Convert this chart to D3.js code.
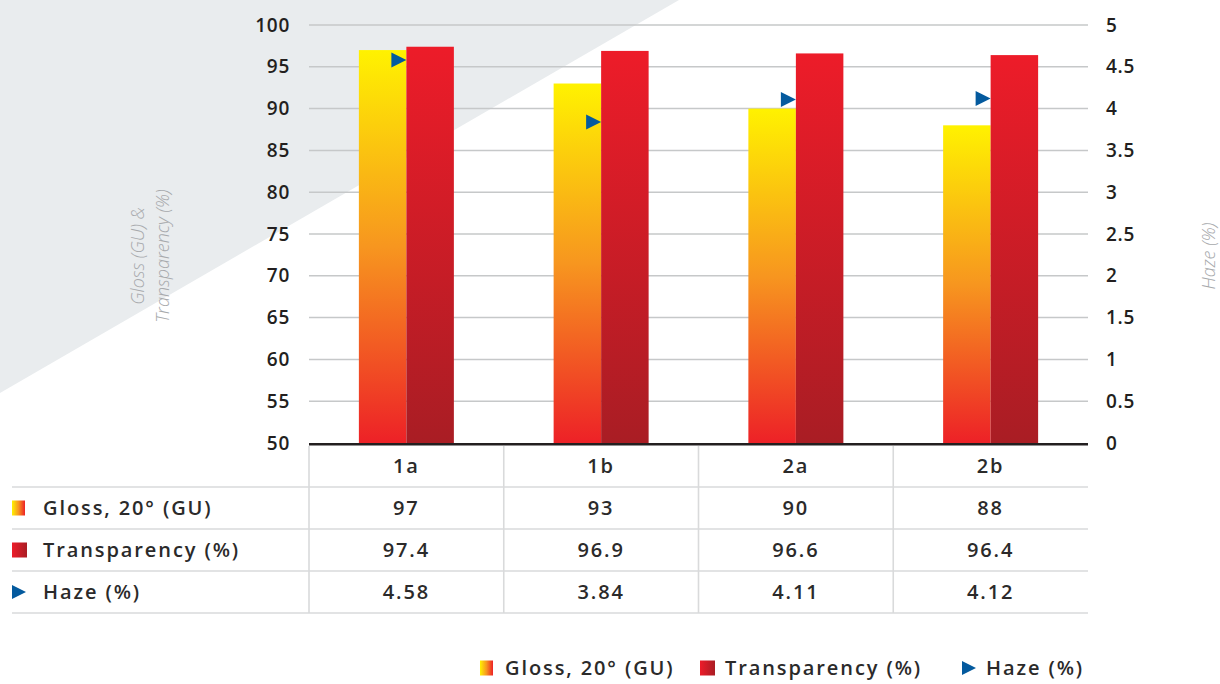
<!DOCTYPE html>
<html>
<head>
<meta charset="utf-8">
<script src="https://cdn.jsdelivr.net/npm/d3@7/dist/d3.min.js"></script>
<style>
  html, body { margin: 0; padding: 0; background: #ffffff; }
  svg { display: block; font-family: "Open Sans", sans-serif; }
</style>
</head>
<body>
<svg id="chart" width="1220" height="684"></svg>
<script>
// Samples and measured values
const categories = ["1a", "1b", "2a", "2b"];
const glossValues = [97, 93, 90, 88];
const transparencyValues = [97.4, 96.9, 96.6, 96.4];
const hazeValues = [4.58, 3.84, 4.11, 4.12];
const seriesNames = ["Gloss, 20° (GU)", "Transparency (%)", "Haze (%)"];
const leftTicks = [50, 55, 60, 65, 70, 75, 80, 85, 90, 95, 100];
const rightTicks = [0, 0.5, 1, 1.5, 2, 2.5, 3, 3.5, 4, 4.5, 5];

const svg = d3.select("#chart");
const plot = { left: 309, right: 1088, top: 25, bottom: 443 };
const tableTop = 445, rowH = 42, tableLeft = 12;
const FONT = "'Open Sans', sans-serif";

// Gradients
const defs = svg.append("defs");
function linGrad(id, x2, y2, stops) {
  const g = defs.append("linearGradient").attr("id", id)
    .attr("x1", 0).attr("y1", 0).attr("x2", x2).attr("y2", y2);
  stops.forEach(s => g.append("stop").attr("offset", s[0]).attr("stop-color", s[1]));
}
linGrad("glossV", 0, 1, [[0, "#fff200"], [0.5, "#f7961f"], [1, "#ed2127"]]);
linGrad("transV", 0, 1, [[0, "#ed1c29"], [1, "#a91d24"]]);
linGrad("glossH", 1, 0, [[0, "#fff200"], [0.5, "#f7961f"], [1, "#ed2127"]]);
linGrad("transH", 1, 0, [[0, "#ed1c29"], [1, "#a91d24"]]);

// Light backdrop wedge in the upper-left corner
svg.append("path")
  .attr("d", "M0,0 L679,0 L0,393 Z")
  .attr("fill", "#e9ecee");

// Scales
const x0 = d3.scaleBand().domain(categories).range([plot.left, plot.right]);
const x1 = d3.scaleBand().domain(["gloss", "trans"]).range([0, x0.bandwidth()]).paddingOuter(1.05);
const yL = d3.scaleLinear().domain([50, 100]).range([plot.bottom, plot.top]);
const yR = d3.scaleLinear().domain([0, 5]).range([plot.bottom, plot.top]);

// Gridlines
svg.append("g").selectAll("line").data(leftTicks.slice(1)).join("line")
  .attr("x1", plot.left).attr("x2", plot.right)
  .attr("y1", d => yL(d)).attr("y2", d => yL(d))
  .attr("stroke", "#c6c8c9").attr("stroke-width", 1.5);

const tickStyle = sel => sel
  .attr("font-family", FONT).attr("font-size", 19)
  .attr("font-weight", 600).attr("fill", "#231f20").attr("letter-spacing", 0.7);

// Left axis
const leftAxis = svg.append("g").attr("transform", `translate(${plot.left},0)`)
  .call(d3.axisLeft(yL).tickValues(leftTicks).tickSize(0).tickPadding(19));
leftAxis.select(".domain").remove();
leftAxis.selectAll("text").call(tickStyle);

// Right axis
const rightAxis = svg.append("g").attr("transform", `translate(${plot.right},0)`)
  .call(d3.axisRight(yR).tickValues(rightTicks).tickFormat(d3.format("~g")).tickSize(0).tickPadding(18));
rightAxis.select(".domain").remove();
rightAxis.selectAll("text").call(tickStyle);

// Axis titles
const titleStyle = sel => sel
  .attr("text-anchor", "middle").attr("font-style", "italic")
  .attr("font-family", FONT).attr("font-size", 18).attr("font-weight", 300).attr("fill", "#a7a9ac");
const leftTitle = svg.append("text")
  .attr("transform", "translate(144,256) rotate(-90)").call(titleStyle);
leftTitle.append("tspan").attr("x", 0).attr("dy", 0).text("Gloss (GU) &");
leftTitle.append("tspan").attr("x", 0).attr("dy", 25).text("Transparency (%)");

svg.append("text")
  .attr("transform", "translate(1215,256) rotate(-90)").call(titleStyle)
  .text("Haze (%)");

// Bars
const groups = svg.append("g").selectAll("g").data(categories).join("g")
  .attr("transform", d => `translate(${x0(d)},0)`);
groups.append("rect")
  .attr("x", x1("gloss")).attr("width", x1.bandwidth())
  .attr("y", (d, i) => yL(glossValues[i]))
  .attr("height", (d, i) => yL(50) - yL(glossValues[i]))
  .attr("fill", "url(#glossV)");
groups.append("rect")
  .attr("x", x1("trans")).attr("width", x1.bandwidth())
  .attr("y", (d, i) => yL(transparencyValues[i]))
  .attr("height", (d, i) => yL(50) - yL(transparencyValues[i]))
  .attr("fill", "url(#transV)");

// Haze markers (right-pointing triangles, tip at the bar boundary)
const tri = (w, h) => `M${-w},${-h / 2} L0,0 L${-w},${h / 2} Z`;
groups.append("path")
  .attr("transform", (d, i) => `translate(${x1("trans")},${yR(hazeValues[i])})`)
  .attr("d", tri(15, 15))
  .attr("fill", "#045a9e");

// Baseline
svg.append("line")
  .attr("x1", plot.left).attr("x2", plot.right)
  .attr("y1", plot.bottom + 1.2).attr("y2", plot.bottom + 1.2)
  .attr("stroke", "#231f20").attr("stroke-width", 2.6);

// Data table
const table = svg.append("g");
const lineColor = "#d9dadb";
[1, 2, 3, 4].forEach(r => {
  table.append("line")
    .attr("x1", tableLeft).attr("x2", plot.right)
    .attr("y1", tableTop + r * rowH).attr("y2", tableTop + r * rowH)
    .attr("stroke", lineColor).attr("stroke-width", 1.6);
});
categories.forEach(c => {
  table.append("line")
    .attr("x1", x0(c)).attr("x2", x0(c))
    .attr("y1", tableTop + 1).attr("y2", tableTop + 4 * rowH)
    .attr("stroke", lineColor).attr("stroke-width", 1.6);
});

const textStyle = sel => sel
  .attr("font-family", FONT).attr("font-size", 20)
  .attr("font-weight", 600).attr("fill", "#2b2a2a").attr("letter-spacing", 1.9);

// header row
table.selectAll("text.hdr").data(categories).join("text").attr("class", "hdr")
  .attr("x", d => x0(d) + x0.bandwidth() / 2)
  .attr("y", tableTop + rowH / 2).attr("dy", "0.35em")
  .attr("text-anchor", "middle").text(d => d).call(textStyle);

const rows = [
  { name: seriesNames[0], values: glossValues, fmt: d3.format("d") },
  { name: seriesNames[1], values: transparencyValues, fmt: d3.format(".1f") },
  { name: seriesNames[2], values: hazeValues, fmt: d3.format(".2f") }
];

// Legend symbol drawing shared by table and bottom legend
function symbol(g, i, x, y) {
  if (i === 0) {
    g.append("rect").attr("x", x).attr("y", y - 7.5).attr("width", 13).attr("height", 15).attr("fill", "url(#glossH)");
  } else if (i === 1) {
    g.append("rect").attr("x", x).attr("y", y - 7.5).attr("width", 15).attr("height", 15).attr("fill", "url(#transH)");
  } else {
    g.append("path").attr("transform", `translate(${x + 14},${y})`).attr("d", tri(14, 14)).attr("fill", "#045a9e");
  }
}

rows.forEach((row, r) => {
  const cy = tableTop + (r + 1) * rowH + rowH / 2;
  symbol(table, r, tableLeft, cy);
  table.append("text").attr("x", 43).attr("y", cy).attr("dy", "0.35em")
    .text(row.name).call(textStyle);
  table.selectAll(null).data(categories).join("text")
    .attr("x", d => x0(d) + x0.bandwidth() / 2)
    .attr("y", cy).attr("dy", "0.35em").attr("text-anchor", "middle")
    .text((d, i) => row.fmt(row.values[i])).call(textStyle);
});

// Bottom legend
const legend = svg.append("g");
const legendX = [480, 700, 962];
seriesNames.forEach((name, i) => {
  symbol(legend, i, legendX[i], 668);
  legend.append("text").attr("x", legendX[i] + (i === 2 ? 24 : 25)).attr("y", 668).attr("dy", "0.35em")
    .text(name).call(textStyle);
});
</script>
</body>
</html>
